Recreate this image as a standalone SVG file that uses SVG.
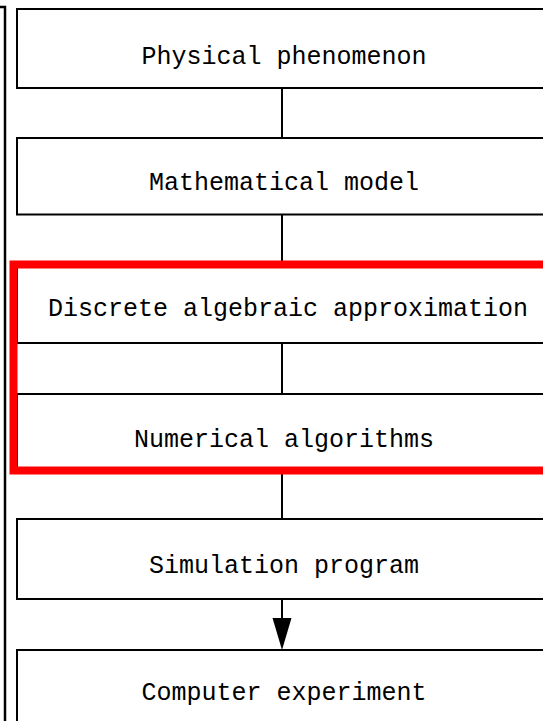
<svg xmlns="http://www.w3.org/2000/svg" width="543" height="721" viewBox="0 0 543 721">
  <defs>
    <style>
      .box { fill: #ffffff; stroke: #000000; stroke-width: 2; }
      .lbl { font-family: "Liberation Mono", "DejaVu Sans Mono", monospace; font-size: 25px; fill: #000000; text-anchor: middle; }
      .conn { stroke: #000000; stroke-width: 2; fill: none; }
      .hl { fill: none; stroke: #ff0000; stroke-width: 8; }
    </style>
  </defs>
  <rect x="0" y="0" width="543" height="721" fill="#ffffff"/>
  <g id="outer-frame">
    <polyline points="0,7 5,7 5,721" class="conn" style="stroke-width:2.5"/>
  </g>
  <g id="connectors">
    <line x1="282" y1="88" x2="282" y2="138" class="conn"/>
    <line x1="282" y1="214" x2="282" y2="268" class="conn"/>
    <line x1="282" y1="343" x2="282" y2="394" class="conn"/>
    <line x1="282" y1="471" x2="282" y2="519" class="conn"/>
    <line x1="282" y1="599" x2="282" y2="620" class="conn"/>
    <polygon points="272.5,618 291.5,618 282,650" fill="#000000"/>
  </g>
  <g id="node-physical">
    <rect x="17" y="9" width="532" height="79" class="box"/>
    <text x="284" y="63.5" class="lbl">Physical phenomenon</text>
  </g>
  <g id="node-math">
    <rect x="17" y="138" width="532" height="76.5" class="box"/>
    <text x="284" y="190" class="lbl">Mathematical model</text>
  </g>
  <g id="node-discrete">
    <rect x="17" y="266" width="532" height="77" class="box"/>
    <text x="288" y="315.5" class="lbl">Discrete algebraic approximation</text>
  </g>
  <g id="node-numerical">
    <rect x="17" y="394" width="532" height="76" class="box"/>
    <text x="284" y="446.5" class="lbl">Numerical algorithms</text>
  </g>
  <g id="highlight">
    <rect x="13.5" y="264.5" width="540" height="206" class="hl"/>
  </g>
  <g id="node-simulation">
    <rect x="17" y="519" width="532" height="80" class="box"/>
    <text x="284" y="573" class="lbl">Simulation program</text>
  </g>
  <g id="node-computer">
    <rect x="17" y="650" width="532" height="80" class="box"/>
    <text x="284" y="699.5" class="lbl">Computer experiment</text>
  </g>
</svg>
